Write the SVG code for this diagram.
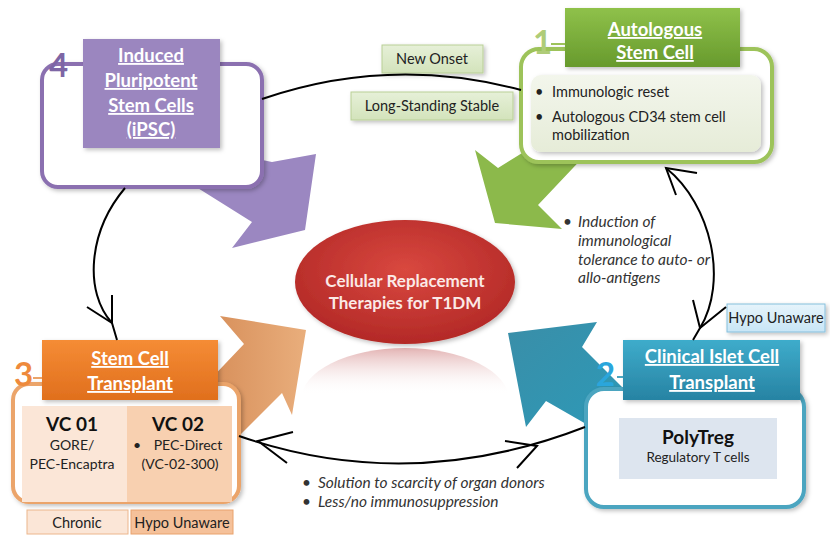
<svg xmlns="http://www.w3.org/2000/svg" width="830" height="537" viewBox="0 0 830 537">
<style>
text{font-family:Lato,"Liberation Sans",Arial,sans-serif;}
.hdr{fill:#fff;font-weight:bold;font-size:18.5px;text-anchor:middle;text-decoration:underline;}
.num{font-weight:bold;font-size:33px;}
.lbl{font-size:14.5px;fill:#222;text-anchor:middle;}
.body{font-size:14.5px;fill:#222;}
.ital{font-size:15.5px;fill:#333;font-style:italic;}
.conn{fill:none;stroke:#000;stroke-width:2;}
.outer{fill:#fff;stroke-width:4;}
</style>
<defs>
<filter id="sh" x="-10%" y="-10%" width="130%" height="140%"><feDropShadow dx="2" dy="2" stdDeviation="2" flood-color="#000" flood-opacity="0.25"/></filter>
<linearGradient id="gGreen" x1="0" y1="0" x2="0" y2="1"><stop offset="0" stop-color="#8fc14a"/><stop offset="1" stop-color="#679a2d"/></linearGradient>
<linearGradient id="gOrange" x1="0" y1="0" x2="0" y2="1"><stop offset="0" stop-color="#f58c35"/><stop offset="1" stop-color="#e06f1d"/></linearGradient>
<linearGradient id="gTeal" x1="0" y1="0" x2="0" y2="1"><stop offset="0" stop-color="#3eaccb"/><stop offset="1" stop-color="#2783a3"/></linearGradient>
<linearGradient id="gArrO" x1="0" y1="0" x2="1" y2="0"><stop offset="0" stop-color="#d68d58"/><stop offset="1" stop-color="#e9ae7c"/></linearGradient>
<linearGradient id="gArrT" x1="0" y1="0" x2="1" y2="1"><stop offset="0" stop-color="#3a8ea8"/><stop offset="1" stop-color="#2c9ab8"/></linearGradient>
<linearGradient id="gInner1" x1="0" y1="0" x2="0" y2="1"><stop offset="0" stop-color="#f3f6ec"/><stop offset="1" stop-color="#e6ecd8"/></linearGradient>
<linearGradient id="gTag" x1="0" y1="0" x2="0" y2="1"><stop offset="0" stop-color="#e6f0d8"/><stop offset="1" stop-color="#d3e3bb"/></linearGradient>
<linearGradient id="gHypo" x1="0" y1="0" x2="0" y2="1"><stop offset="0" stop-color="#e6f4fb"/><stop offset="1" stop-color="#c8e6f6"/></linearGradient>
<radialGradient id="gRed" cx="0.5" cy="0.4" r="0.6"><stop offset="0" stop-color="#d9483f"/><stop offset="1" stop-color="#b32927"/></radialGradient>
<linearGradient id="gRefl" x1="0" y1="0" x2="0" y2="1"><stop offset="0" stop-color="#e3b3b3"/><stop offset="0.45" stop-color="#ffffff" stop-opacity="0"/></linearGradient>
</defs>

<g id="arrows">
<polygon points="215,150 272,162 316,154 305,230 232,248 252,222 185,180" fill="#9b87c1"/>
<polygon points="527,150 498,168 475,150 495,223 562,229 538,205 590,150" fill="#8cb94b"/>
<polygon points="205,385 244,344 220,316 306,330 292,415 282,393 235,440" fill="url(#gArrO)"/>
<polygon points="508,333 597,322 582,347 630,395 600,432 546,401 526,427" fill="url(#gArrT)"/>
</g>

<g id="center">
<ellipse cx="405" cy="400" rx="104" ry="52" fill="url(#gRefl)"/>
<ellipse cx="405" cy="282" rx="110" ry="62" fill="url(#gRed)" filter="url(#sh)"/>
<text x="405" y="287" text-anchor="middle" font-weight="bold" font-size="17" fill="#fbe9e6">Cellular Replacement</text>
<text x="405" y="309" text-anchor="middle" font-weight="bold" font-size="17" fill="#fbe9e6">Therapies for T1DM</text>
</g>

<g id="node4">
<rect class="outer" x="42" y="64" width="220" height="123" rx="16" stroke="#8b70b0" filter="url(#sh)"/>
<rect x="83" y="39" width="137" height="109" fill="#9b86bf" filter="url(#sh)"/>
<text class="hdr" x="151" y="62">Induced</text>
<text class="hdr" x="151" y="87">Pluripotent</text>
<text class="hdr" x="151" y="112">Stem Cells</text>
<text class="hdr" x="151" y="136">(iPSC)</text>
<text class="num" x="49" y="77" fill="#7d66a5">4</text>
<rect x="73" y="64" width="10" height="2" fill="#8b70b0"/>
</g>

<g id="node1">
<rect class="outer" x="521" y="49" width="251" height="113" rx="18" stroke="#9dc35a" filter="url(#sh)"/>
<rect x="565" y="8" width="175" height="59" fill="url(#gGreen)" filter="url(#sh)"/>
<text class="hdr" x="655" y="36">Autologous </text>
<text class="hdr" x="655" y="59">Stem Cell</text>
<text class="num" x="533" y="54" fill="#afcc78">1</text>
<rect x="551" y="43" width="14" height="2" fill="#9dc35a"/>
<rect x="531" y="75" width="230" height="77" rx="10" fill="url(#gInner1)" filter="url(#sh)"/>
<text class="body" x="535" y="97">•</text>
<text class="body" x="552" y="97">Immunologic reset</text>
<text class="body" x="535" y="122">•</text>
<text class="body" x="552" y="122">Autologous CD34 stem cell</text>
<text class="body" x="552" y="140">mobilization</text>
</g>

<g id="tag-new-onset">
<rect x="382" y="45" width="101" height="28" fill="url(#gTag)" stroke="#b9cf96" filter="url(#sh)"/>
<text class="lbl" x="432" y="64">New Onset</text>
</g>
<g id="tag-long-standing">
<rect x="351" y="92" width="162" height="28" fill="url(#gTag)" stroke="#b9cf96" filter="url(#sh)"/>
<text class="lbl" x="432" y="111">Long-Standing Stable</text>
</g>

<g id="node3">
<rect class="outer" x="13" y="384" width="226" height="118" rx="16" stroke="#eba46a" filter="url(#sh)"/>
<rect x="22" y="406" width="105" height="96" fill="#fbe6d7"/>
<rect x="127" y="406" width="105" height="96" fill="#f8d0b0"/>
<rect x="42" y="340" width="176" height="60" fill="url(#gOrange)" filter="url(#sh)"/>
<text class="hdr" x="130" y="365">Stem Cell</text>
<text class="hdr" x="130" y="390">Transplant</text>
<text class="num" x="14" y="386" fill="#ee8a3c">3</text>
<rect x="33" y="377" width="9" height="2" fill="#eba46a"/>
<text x="72" y="431" text-anchor="middle" font-weight="bold" font-size="19" fill="#111">VC 01</text>
<text x="72" y="450" text-anchor="middle" font-size="14" fill="#222">GORE/</text>
<text x="72" y="469" text-anchor="middle" font-size="14" fill="#222">PEC-Encaptra</text>
<text x="178" y="431" text-anchor="middle" font-weight="bold" font-size="19" fill="#111">VC 02</text>
<text x="133" y="450" font-size="14" fill="#222">•</text>
<text x="188" y="450" text-anchor="middle" font-size="14" fill="#222">PEC-Direct</text>
<text x="180" y="469" text-anchor="middle" font-size="14" fill="#222">(VC-02-300)</text>
</g>
<g id="tag-chronic">
<rect x="27" y="510" width="101" height="24" fill="#fbe6d7" stroke="#ecb68c"/>
<text class="lbl" x="77" y="528">Chronic</text>
</g>
<g id="tag-hypo-3">
<rect x="131" y="510" width="102" height="24" fill="#f5c19a" stroke="#e9a26c"/>
<text class="lbl" x="182" y="528" font-size="14">Hypo Unaware</text>
</g>

<g id="node2">
<rect class="outer" x="586" y="389" width="218" height="118" rx="18" stroke="#4ba5c0" filter="url(#sh)"/>
<rect x="619" y="418" width="158" height="61" fill="#dde5ef"/>
<text x="698" y="444" text-anchor="middle" font-weight="bold" font-size="19" fill="#111">PolyTreg</text>
<text x="698" y="462" text-anchor="middle" font-size="13.5" fill="#222">Regulatory T cells</text>
<rect x="623" y="340" width="177" height="60" fill="url(#gTeal)" filter="url(#sh)"/>
<text class="hdr" x="712" y="363">Clinical Islet Cell </text>
<text class="hdr" x="712" y="389">Transplant</text>
<text class="num" x="596" y="386" fill="#2aa6dc">2</text>
<rect x="617" y="376" width="6" height="2" fill="#4ba5c0"/>
</g>
<g id="tag-hypo-2">
<rect x="727" y="304" width="98" height="28" fill="url(#gHypo)" stroke="#86bfdc" filter="url(#sh)"/>
<text class="lbl" x="776" y="323" font-size="14">Hypo Unaware</text>
</g>

<g id="connectors">
<path class="conn" d="M262,99 Q390,55 521,90"/>
<path class="conn" d="M125,188 C88,232 84,292 112,323 L117,340"/>
<path class="conn" d="M87,307 L112,323 L112,295"/>
<path class="conn" d="M666,168 C712,205 728,282 700,328 L693,340"/>
<path class="conn" d="M697,173 L666,168 L676,195"/>
<path class="conn" d="M693,300 L700,328 L726,307"/>
<path class="conn" d="M239,436 Q410,495 585,427"/>
<path class="conn" d="M293,432 L258,441 L287,463"/>
<path class="conn" d="M505,441 L537,446 L517,468"/>
</g>

<g id="notes">
<text class="ital" x="563" y="227" font-style="normal">•</text>
<text class="ital" x="578" y="227">Induction of</text>
<text class="ital" x="578" y="246">immunological</text>
<text class="ital" x="578" y="265">tolerance to auto- or</text>
<text class="ital" x="578" y="283">allo-antigens</text>
<text class="ital" x="302" y="488" font-style="normal">•</text>
<text class="ital" x="318" y="488">Solution to scarcity of organ donors</text>
<text class="ital" x="302" y="507" font-style="normal">•</text>
<text class="ital" x="318" y="507">Less/no immunosuppression</text>
</g>
</svg>
